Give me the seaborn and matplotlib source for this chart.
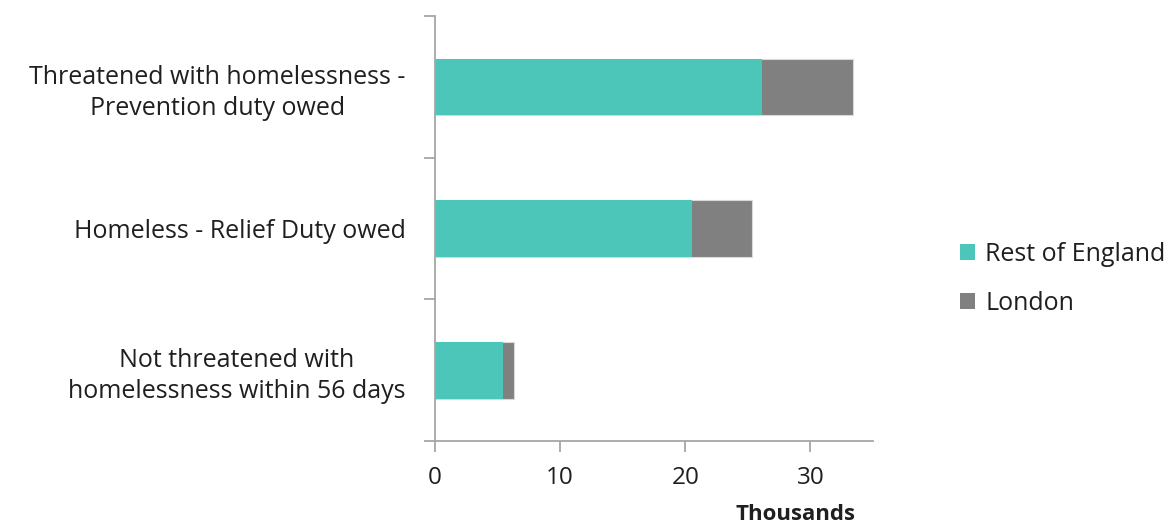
import matplotlib
matplotlib.use("Agg")
import matplotlib.pyplot as plt
import seaborn as sns
import pandas as pd
from matplotlib.patches import Patch

categories = [
    "Threatened with homelessness -\nPrevention duty owed",
    "Homeless - Relief Duty owed",
    "Not threatened with\nhomelessness within 56 days",
]
rest_of_england = [26.1, 20.5, 5.4]
london = [7.3, 4.8, 0.9]
series_names = ["Rest of England", "London"]
x_ticks = [0, 10, 20, 30]

teal = "#4BC6B9"
grey = "#808080"
axis_grey = "#A6A6A6"
text_col = "#1F1F1F"

sns.set_theme(style="white")
plt.rcParams["font.family"] = ["Open Sans", "DejaVu Sans"]

df = pd.DataFrame({
    "category": categories,
    "rest": rest_of_england,
    "total": [r + l for r, l in zip(rest_of_england, london)],
})

fig = plt.figure(figsize=(11.7, 5.25), dpi=100)
ax = fig.add_axes([435 / 1170, 1 - 441 / 525, (873 - 435) / 1170, (441 - 16) / 525])

sns.barplot(data=df, x="total", y="category", color=grey, width=0.4,
            saturation=1, edgecolor="#D9D9D9", linewidth=0.8, ax=ax, orient="h")
sns.barplot(data=df, x="rest", y="category", color=teal, width=0.4,
            saturation=1, edgecolor="none", linewidth=0, ax=ax, orient="h")

ax.set_xlim(0, 35)
ax.set_ylim(2.5, -0.5)
ax.set_xticks(x_ticks)
ax.set_xticklabels([str(t) for t in x_ticks], fontsize=17.5, color=text_col)

# category labels sit between boundary tick marks
ax.set_yticks([-0.5, 0.5, 1.5, 2.5])
ax.set_yticklabels([])
ax.set_yticks(range(len(categories)), minor=True)
ax.set_yticklabels(categories, minor=True, fontsize=18, color=text_col,
                   ha="right", multialignment="center", linespacing=1.3)
ax.tick_params(axis="y", which="minor", length=0, pad=21)
ax.tick_params(axis="y", which="major", length=8, width=1.3, color=axis_grey, direction="out", left=True)
ax.tick_params(axis="x", length=8, width=1.3, color=axis_grey, direction="out", bottom=True, pad=10)

ax.set_xlabel("")
ax.set_ylabel("")
fig.text(795 / 1170, 1 - 515 / 525, "Thousands", fontsize=16, fontweight="bold",
         color=text_col, ha="center", va="center")

for side in ["top", "right"]:
    ax.spines[side].set_visible(False)
for side in ["left", "bottom"]:
    ax.spines[side].set_color(axis_grey)
    ax.spines[side].set_linewidth(1.3)

handles = [Patch(facecolor=teal, edgecolor="none"), Patch(facecolor=grey, edgecolor="none")]
fig.legend(handles, series_names, loc="center left", bbox_to_anchor=(950 / 1170, 1 - 279 / 525),
           frameon=False, fontsize=18, handlelength=0.6, handleheight=0.6,
           handletextpad=0.4, labelspacing=0.95, labelcolor=text_col, borderaxespad=0)

fig.savefig("out.png", dpi=100)
